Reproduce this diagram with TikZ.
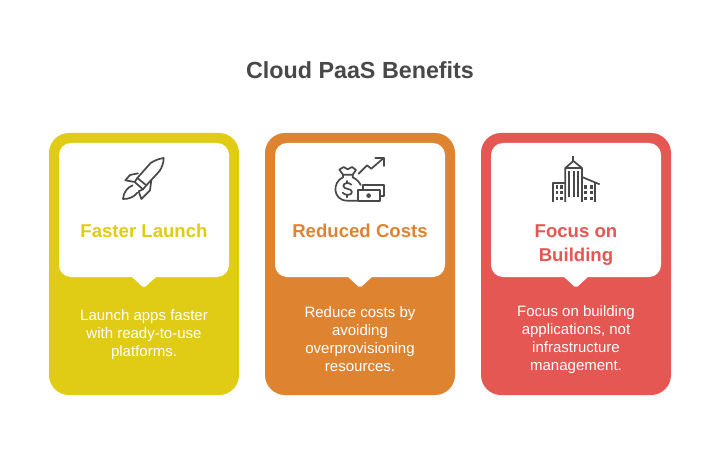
\documentclass[tikz,border=0pt]{standalone}
\usepackage{fontspec}
\setmainfont{Liberation Sans}
\definecolor{cyel}{HTML}{E0CC15}
\definecolor{cora}{HTML}{DE8431}
\definecolor{cred}{HTML}{E55753}
\definecolor{ink}{HTML}{484848}
\tikzset{
 x=1pt,y=-1pt,
 card/.style={fill=#1,rounded corners=20,minimum width=190,minimum height=262,inner sep=0,outer sep=0},
 panel/.style={fill=white,rounded corners=12,minimum width=170,minimum height=134,inner sep=0,outer sep=0},
 head/.style={text=#1,font=\fontsize{18.6}{24}\selectfont\bfseries,align=center,inner sep=0},
 body/.style={text=white,font=\fontsize{15}{18}\selectfont,align=center,inner sep=0},
 icon/.style={draw=ink,line width=1.7pt,line join=round,line cap=round,x=0.3333pt,y=-0.3333pt},
}
\newcommand{\notch}[1]{\fill[white,rounded corners=2] (#1-13,276) -- (#1,288) -- (#1+13,276) -- cycle;}
\begin{document}
\begin{tikzpicture}
\useasboundingbox (0,0) rectangle (720,468);
\fill[white] (0,0) rectangle (720,468);
\node[text=ink,font=\fontsize{23.3}{26}\selectfont\bfseries,inner sep=0] (title) at (360,70) {Cloud PaaS Benefits};

\node[card=cyel] (c1) at (144,264) {};
\node[card=cora] (c2) at (360,264) {};
\node[card=cred] (c3) at (576,264) {};
\node[panel] (p1) at (144,210) {};
\node[panel] (p2) at (360,210) {};
\node[panel] (p3) at (576,210) {};
\notch{144}\notch{360}\notch{576}

\node[head=cyel] (h1) at (144,231) {Faster Launch};
\node[head=cora] (h2) at (360,231) {Reduced Costs};
\node[head=cred] (h3) at (576,245) {Focus on\\Building};
\node[body] (b1) at (144,335) {Launch apps faster\\with ready-to-use\\platforms.};
\node[body] (b2) at (360,339) {Reduce costs by\\avoiding\\overprovisioning\\resources.};
\node[body] (b3) at (576,340) {Focus on building\\applications, not\\infrastructure\\management.};

% rocket
\begin{scope}[shift={(118,152)},icon]
 \draw (58,78) -- (98,33) .. controls (110,25) and (124,20) .. (137,18) .. controls (137,32) and (132,46) .. (124,58) -- (85,100) -- cycle;
 \draw (60,64) -- (36,69) -- (22,85) -- (50,90) -- (75,112) -- (85,100);
 \draw (50,90) -- (58,78);
 \draw (100,84) -- (96,115) -- (70,141) -- (62,118) -- (75,112);
 \draw (44,100) .. controls (28,106) and (16,122) .. (15,141) .. controls (32,142) and (50,134) .. (58,122);
\end{scope}
% money
\begin{scope}[shift={(332,152)},icon]
 \draw (80,65) -- (105,40) -- (118,50) -- (155,18);
 \draw (130,18) -- (155,18) -- (155,42);
 \draw (33,68) -- (62,68) -- (72,54) -- (60,45) -- (47,52) -- (35,45) -- (22,53) -- cycle;
 \draw (33,68) -- (33,76) .. controls (0,90) and (2,145) .. (45,146) -- (76,146);
 \draw (62,68) -- (62,76) .. controls (72,80) and (82,90) .. (86,99);
 \draw (78,114) rectangle (144,147);
 \draw (92,114) -- (92,100) -- (156,100) -- (156,132) -- (144,132);
 \draw (110,131) circle (5);
 \draw (58,98) .. controls (52,90) and (34,92) .. (34,102) .. controls (34,113) and (60,108) .. (60,120) .. controls (60,131) and (38,131) .. (32,122);
 \draw (46,87) -- (46,93) (46,130) -- (46,136);
\end{scope}
% building
\begin{scope}[shift={(548,152)},icon,line cap=butt]
 \draw (52,150) -- (52,48) -- (76,27) -- (102,48) -- (102,150);
 \draw (52,48) -- (102,48);
 \draw (76,27) -- (76,12);
 \draw[line width=2pt] (63,58) -- (63,135) (77,58) -- (77,135) (90,58) -- (90,135);
 \draw (52,92) -- (15,92) -- (15,150);
 \draw (102,75) -- (155,97);
 \draw (140,91) -- (140,150);
 \foreach \xx in {27,40,113,130} \foreach \yy in {105,122,140}
   \fill[ink,draw=none] (\xx-4,\yy-5) rectangle (\xx+4,\yy+5);
\end{scope}
\end{tikzpicture}
\end{document}
